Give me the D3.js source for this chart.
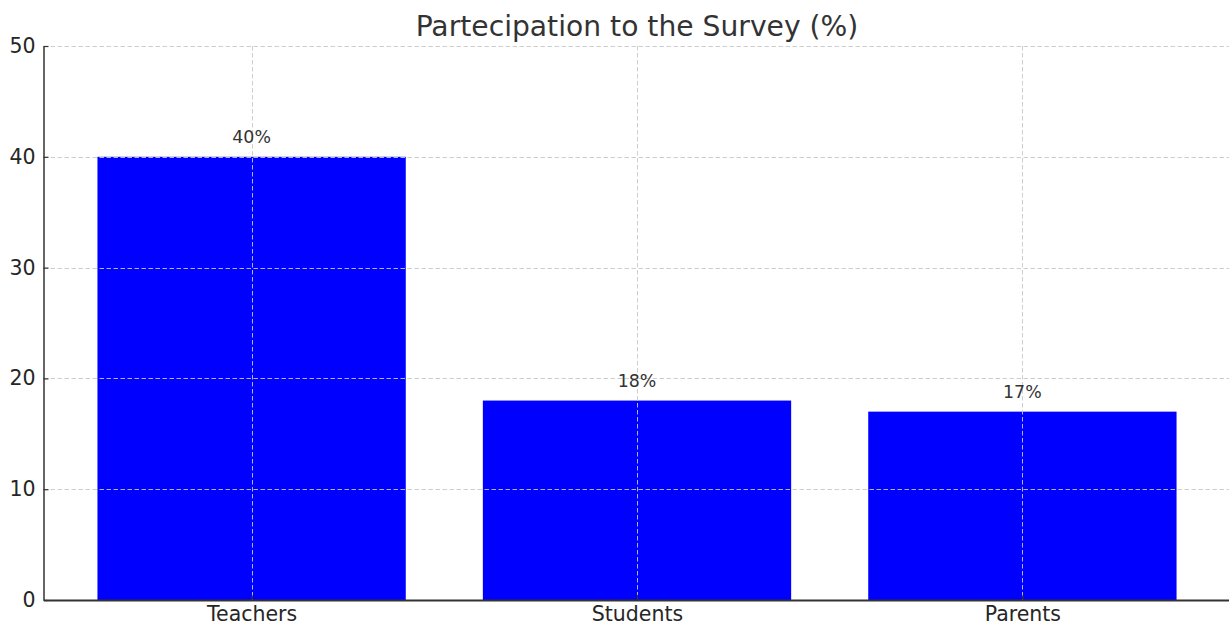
<!DOCTYPE html>
<html>
<head>
<meta charset="utf-8">
<script src="https://cdn.jsdelivr.net/npm/d3@7"></script>
<style>
  html, body { margin: 0; padding: 0; background: #fff; }
  svg { display: block; font-family: "DejaVu Sans", sans-serif; }
</style>
</head>
<body>
<svg id="chart" width="1229" height="626"></svg>
<script>
// Survey participation by group
const categories = ["Teachers", "Students", "Parents"];
const participation = [40, 18, 17];
const yTicks = [0, 10, 20, 30, 40, 50];
const chartTitle = "Partecipation to the Survey (%)";

const svg = d3.select("#chart");
const margin = { left: 43.5, top: 46, bottom: 26 };
const plotRight = 1230.5;
const plotBottom = 626 - margin.bottom;

// Category positions: bars 0.8 wide with 5% padding on each side
const x = d3.scaleLinear().domain([-0.54, 2.54]).range([margin.left, plotRight]);
const y = d3.scaleLinear().domain([0, 50]).range([plotBottom, margin.top]);
const barWidth = 0.8;

const plot = svg.append("g");

// Bars
plot.selectAll("rect.bar")
  .data(participation)
  .join("rect")
  .attr("class", "bar")
  .attr("x", (d, i) => x(i - barWidth / 2))
  .attr("width", (d, i) => x(i + barWidth / 2) - x(i - barWidth / 2))
  .attr("y", d => y(d))
  .attr("height", d => y(0) - y(d))
  .attr("fill", "#0000ff");

// Dashed grid drawn above the bars
const grid = plot.append("g")
  .attr("stroke", "#c8c8c8")
  .attr("stroke-width", 0.9)
  .attr("stroke-dasharray", "4.5,2.5");
grid.selectAll("line.h")
  .data(yTicks.filter(t => t > 0))
  .join("line")
  .attr("x1", margin.left).attr("x2", plotRight)
  .attr("y1", d => Math.round(y(d)) + 0.5).attr("y2", d => Math.round(y(d)) + 0.5);
grid.selectAll("line.v")
  .data(categories)
  .join("line")
  .attr("x1", (d, i) => Math.round(x(i)) + 0.5).attr("x2", (d, i) => Math.round(x(i)) + 0.5)
  .attr("y1", margin.top).attr("y2", plotBottom);

// Value labels above bars
plot.selectAll("text.value")
  .data(participation)
  .join("text")
  .attr("class", "value")
  .attr("x", (d, i) => x(i))
  .attr("y", d => y(d) - 13.5)
  .attr("text-anchor", "middle")
  .attr("font-size", 17.4)
  .attr("fill", "#333333")
  .text(d => d + "%");

// Y axis with inward ticks
const yAxis = svg.append("g")
  .attr("transform", `translate(${margin.left},0)`)
  .call(d3.axisLeft(y).tickValues(yTicks).tickSizeInner(-5).tickSizeOuter(0).tickPadding(8));
yAxis.select(".domain").attr("stroke", "#333333").attr("stroke-width", 1.5);
yAxis.selectAll(".tick line").attr("stroke", "#333333").attr("stroke-width", 1.2);
yAxis.selectAll(".tick text")
  .attr("font-family", "DejaVu Sans")
  .attr("font-size", 20.5)
  .attr("fill", "#262626")
  .attr("x", -8);

// X axis with category labels
const xAxis = svg.append("g")
  .attr("transform", `translate(0,${plotBottom})`)
  .call(d3.axisBottom(x).tickValues([0, 1, 2]).tickFormat(i => categories[i])
    .tickSizeInner(-5).tickSizeOuter(0).tickPadding(6));
xAxis.select(".domain").attr("stroke", "#333333").attr("stroke-width", 1.8);
xAxis.selectAll(".tick line").attr("stroke", "#333333").attr("stroke-width", 1.2);
xAxis.selectAll(".tick text")
  .attr("font-family", "DejaVu Sans")
  .attr("font-size", 20.5)
  .attr("fill", "#262626")
  .attr("y", 6.5);

// Title
svg.append("text")
  .attr("x", (margin.left + plotRight) / 2)
  .attr("y", 35.5)
  .attr("text-anchor", "middle")
  .attr("font-size", 28.2)
  .attr("fill", "#333333")
  .text(chartTitle);
</script>
</body>
</html>
